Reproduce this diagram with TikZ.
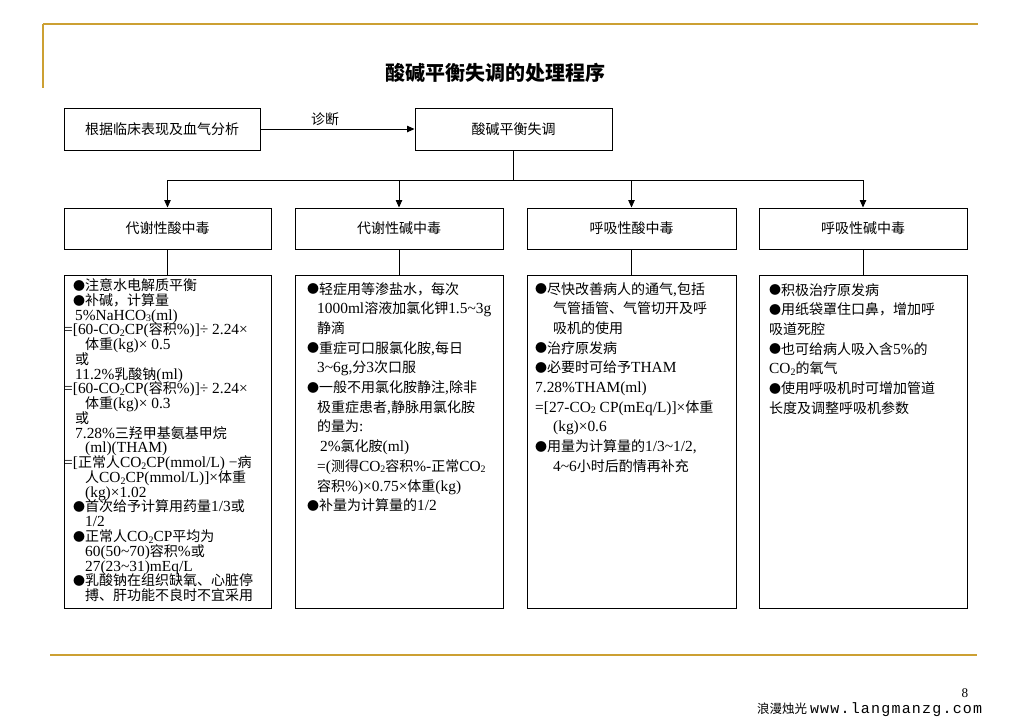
\documentclass[tikz,border=0pt]{standalone}
\usepackage{fontspec}
\usetikzlibrary{arrows.meta}
\setmainfont{Noto Sans CJK SC}
\newfontfamily\cjk{Noto Sans CJK SC}
\newfontfamily\latin[Scale=1.1]{Liberation Serif}
\newfontfamily\urlfont[LetterSpace=8]{Liberation Mono}
\definecolor{gold}{RGB}{204,160,51}
% automatic switching between CJK and Latin fonts
\XeTeXinterchartokenstate=1
\newXeTeXintercharclass\CJKcls
\count255="3000
\loop
\XeTeXcharclass\count255=\CJKcls
\ifnum\count255<"9FFF
\advance\count255 by 1
\repeat
\count255="FF00
\loop
\XeTeXcharclass\count255=\CJKcls
\ifnum\count255<"FFEF
\advance\count255 by 1
\repeat
\XeTeXcharclass"25CF=\CJKcls
\XeTeXinterchartoks 0 \CJKcls = {\cjk}
\XeTeXinterchartoks 4095 \CJKcls = {\cjk}
\XeTeXinterchartoks \CJKcls 0 = {\latin}
\XeTeXinterchartoks 4095 0 = {\latin}
\newcommand\bul{\raisebox{0.3pt}{\fontsize{12}{12}\selectfont ●}}
\newcommand\sub[1]{\raisebox{-1.6pt}{\fontsize{9}{9}\selectfont #1}}
\newcommand\tightlines{\lineskiplimit=-100pt\relax\lineskip=0pt\relax}
\newcommand\listAfont{\fontsize{14}{14.76}\selectfont\tightlines}
\newcommand\listBfont{\fontsize{14}{19.7}\selectfont\tightlines}
\begin{document}
\begin{tikzpicture}[x=1pt,y=-1pt,
  box/.style={draw=black, line width=1pt, inner sep=0pt, font=\fontsize{14}{16}\selectfont},
  panel/.style={draw=black, line width=1pt, inner sep=0pt},
  conn/.style={draw=black, line width=0.8pt},
  arr/.style={conn, -{Triangle[length=7.5pt,width=6.5pt]}},
  listA/.style={anchor=north west, align=left, inner sep=0pt, font=\listAfont},
  listB/.style={anchor=north west, align=left, inner sep=0pt, font=\listBfont},
  goldline/.style={draw=gold, line width=2pt}
]
\useasboundingbox (0,0) rectangle (1028,728);
\fill[white] (0,0) rectangle (1028,728);
% decorative gold rules
\draw[goldline] (43,24) -- (978,24);
\draw[draw=gold, line width=1.5pt] (43,24) -- (43,88);
\draw[goldline, line width=2.2pt] (50,655) -- (977,655);
% title
\node[font=\fontsize{20}{24}\selectfont\bfseries] (title) at (495,73) {酸碱平衡失调的处理程序};
% top row
\node[box, minimum width=196pt, minimum height=42pt] (diag) at (162,129) {根据临床表现及血气分析};
\node[box, minimum width=197pt, minimum height=42pt] (imb) at (513.5,129) {酸碱平衡失调};
% second row
\node[box, minimum width=207pt, minimum height=41pt] (m1) at (167.5,228.5) {代谢性酸中毒};
\node[box, minimum width=208pt, minimum height=41pt] (m2) at (399,228.5) {代谢性碱中毒};
\node[box, minimum width=209pt, minimum height=41pt] (m3) at (631.5,228.5) {呼吸性酸中毒};
\node[box, minimum width=208pt, minimum height=41pt] (m4) at (863,228.5) {呼吸性碱中毒};
% panels
\node[panel, minimum width=207pt, minimum height=333pt] (p1) at (167.5,441.5) {};
\node[panel, minimum width=208pt, minimum height=333pt] (p2) at (399,441.5) {};
\node[panel, minimum width=209pt, minimum height=333pt] (p3) at (631.5,441.5) {};
\node[panel, minimum width=208pt, minimum height=333pt] (p4) at (863,441.5) {};
% connectors
\draw[arr] (diag) -- node[pos=0.42, above=2.5pt, inner sep=0pt, font=\fontsize{14}{16}\selectfont] (dlabel) {诊断} (imb);
\coordinate (split) at (513.5,180);
\draw[conn] (imb) -- (split);
\draw[arr] (split) -| (m1.north);
\draw[arr] (split) -| (m2.north);
\draw[arr] (split) -| (m3.north);
\draw[arr] (split) -| (m4.north);
\draw[conn] (m1) -- (p1);
\draw[conn] (m2) -- (p2);
\draw[conn] (m3) -- (p3);
\draw[conn] (m4) -- (p4);
% panel texts
\node[listA] (t1) at (64,278.5) {%
\hspace*{9pt}\bul 注意水电解质平衡\\
\hspace*{9pt}\bul 补碱，计算量\\
\hspace*{11pt}5\%NaHCO\sub{3}(ml)\\
\hspace*{0pt}=[60-CO\sub{2}CP(容积\%)]÷ 2.24×\\
\hspace*{21pt}体重(kg)× 0.5\\
\hspace*{11pt}或\\
\hspace*{11pt}11.2\%乳酸钠(ml)\\
\hspace*{0pt}=[60-CO\sub{2}CP(容积\%)]÷ 2.24×\\
\hspace*{21pt}体重(kg)× 0.3\\
\hspace*{11pt}或\\
\hspace*{11pt}7.28\%三羟甲基氨基甲烷\\
\hspace*{21pt}(ml)(THAM)\\
\hspace*{0pt}=[正常人CO\sub{2}CP(mmol/L) −病\\
\hspace*{21pt}人CO\sub{2}CP(mmol/L)]×体重\\
\hspace*{21pt}(kg)×1.02\\
\hspace*{9pt}\bul 首次给予计算用药量1/3或\\
\hspace*{21pt}1/2\\
\hspace*{9pt}\bul 正常人CO\sub{2}CP平均为\\
\hspace*{21pt}60(50\textasciitilde70)容积\%或\\
\hspace*{21pt}27(23\textasciitilde31)mEq/L\\
\hspace*{9pt}\bul 乳酸钠在组织缺氧、心脏停\\
\hspace*{21pt}搏、肝功能不良时不宜采用};
\node[listB] (t2) at (307,282) {%
\bul 轻症用等渗盐水，每次\\
\hspace*{10pt}1000ml溶液加氯化钾1.5\textasciitilde3g\\
\hspace*{10pt}静滴\\
\bul 重症可口服氯化胺,每日\\
\hspace*{10pt}3\textasciitilde6g,分3次口服\\
\bul 一般不用氯化胺静注,除非\\
\hspace*{10pt}极重症患者,静脉用氯化胺\\
\hspace*{10pt}的量为:\\
\hspace*{13pt}2\%氯化胺(ml)\\
\hspace*{10pt}=(测得CO\sub{2}容积\%-正常CO\sub{2}\\
\hspace*{10pt}容积\%)×0.75×体重(kg)\\
\bul 补量为计算量的1/2};
\node[listB] (t3) at (535,282) {%
\bul 尽快改善病人的通气,包括\\
\hspace*{18pt}气管插管、气管切开及呼\\
\hspace*{18pt}吸机的使用\\
\bul 治疗原发病\\
\bul 必要时可给予THAM\\
7.28\%THAM(ml)\\
=[27-CO\sub{2} CP(mEq/L)]×体重\\
\hspace*{18pt}(kg)×0.6\\
\bul 用量为计算量的1/3\textasciitilde1/2,\\
\hspace*{18pt}4\textasciitilde6小时后酌情再补充};
\node[listB] (t4) at (769,283) {%
\bul 积极治疗原发病\\
\bul 用纸袋罩住口鼻，增加呼\\
吸道死腔\\
\bul 也可给病人吸入含5\%的\\
CO\sub{2}的氧气\\
\bul 使用呼吸机时可增加管道\\
长度及调整呼吸机参数};
% footer
\node[font=\fontsize{12}{14}\selectfont, inner sep=0pt] (pnum) at (965,693) {8};
\node[anchor=west, inner sep=0pt, font=\fontsize{12.5}{14}\selectfont] (foot) at (757,710) {\XeTeXinterchartokenstate=0 \cjk 浪漫烛光\ {\urlfont\fontsize{15}{16}\selectfont www.langmanzg.com}};
\end{tikzpicture}
\end{document}
